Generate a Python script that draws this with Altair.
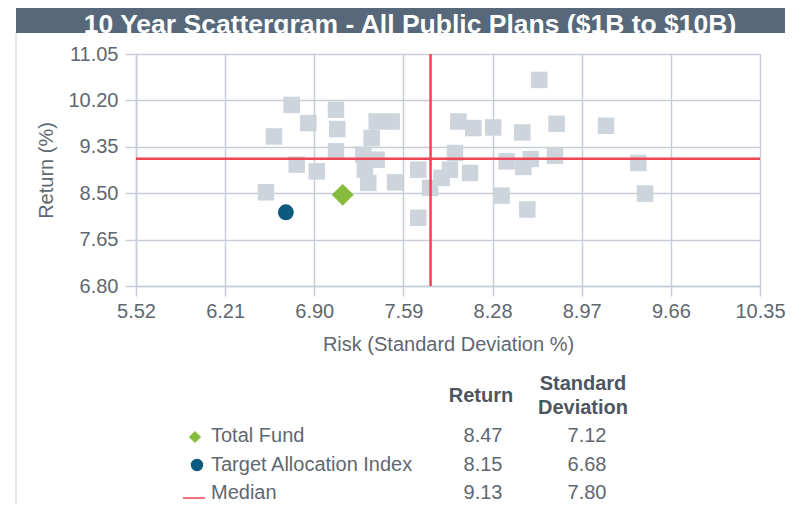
import altair as alt
import pandas as pd

# ---- data ----
peer_risk = [6.725, 6.854, 6.588, 7.068, 7.078, 7.068, 6.764, 6.919, 6.526,
             7.383, 7.499, 7.344, 7.279, 7.383, 7.292, 7.318, 7.525, 7.705,
             7.796, 7.705, 7.886, 7.950, 7.989, 8.105, 8.015, 8.131, 8.285,
             8.510, 8.776, 9.158, 8.641, 8.389, 8.518, 8.575, 8.763, 9.408,
             8.350, 9.460, 8.549]
peer_return = [10.118, 9.784, 9.540, 10.027, 9.675, 9.266, 9.023, 8.900, 8.517,
               9.813, 9.813, 9.510, 9.205, 9.114, 8.931, 8.688, 8.699, 8.931,
               8.597, 8.049, 8.780, 8.931, 9.236, 8.871, 9.813, 9.693, 9.704,
               9.613, 9.771, 9.735, 10.575, 9.083, 8.981, 9.127, 9.187, 9.054,
               8.456, 8.493, 8.201]

legend_labels = ["Total Fund", "Target Allocation Index", "Median"]
legend_return = [8.47, 8.15, 9.13]
legend_sd = [7.12, 6.68, 7.80]

x_ticks = [5.52, 6.21, 6.90, 7.59, 8.28, 8.97, 9.66, 10.35]
y_ticks = [6.80, 7.65, 8.50, 9.35, 10.20, 11.05]

title_text = "10 Year Scattergram - All Public Plans ($1B to $10B)"

GRID = "#c6cdd6"
LABEL = "#5f6770"
HEAD = "#4c5661"
RED = "#ef4454"
GREEN = "#86bc3c"
BLUE = "#0e5a7e"
SQUARE = "#cdd4dc"

peers = pd.DataFrame({"risk": peer_risk, "ret": peer_return})
fund = pd.DataFrame({"risk": [legend_sd[0]], "ret": [legend_return[0]]})
target = pd.DataFrame({"risk": [legend_sd[1]], "ret": [legend_return[1]]})
median = pd.DataFrame({"risk": [legend_sd[2]], "ret": [legend_return[2]]})
legend = pd.DataFrame({"label": legend_labels, "ret": legend_return,
                       "sd": legend_sd, "row": [0, 1, 2]})
one = pd.DataFrame({"t": [title_text]})

xscale = alt.Scale(domain=[5.52, 10.35], nice=False, zero=False)
yscale = alt.Scale(domain=[6.80, 11.05], nice=False, zero=False)

xaxis = alt.Axis(values=x_ticks, format=".2f", title="Risk (Standard Deviation %)",
                 labelFontSize=20, labelColor=LABEL, labelPadding=5,
                 labelFlush=False, labelOverlap=False,
                 tickSize=10, tickColor=GRID, tickWidth=1.5,
                 domainColor=GRID, domainWidth=1.5,
                 gridColor=GRID, gridWidth=1.5,
                 titleFontSize=20, titleFontWeight="normal", titleColor=LABEL,
                 titleY=64, titleBaseline="alphabetic", titleX=312)
yaxis = alt.Axis(values=y_ticks, format=".2f", title="Return (%)",
                 labelFontSize=20, labelColor=LABEL, labelPadding=7,
                 labelFlush=False, labelOverlap=False,
                 tickSize=11, tickColor=GRID, tickWidth=1.5,
                 domainColor=GRID, domainWidth=1.5,
                 gridColor=GRID, gridWidth=1.5,
                 titleFontSize=20, titleFontWeight="normal", titleColor=LABEL,
                 titleX=-84, titleY=116, titleAngle=270, titleAlign="center",
                 titleBaseline="alphabetic")

base_pts = alt.Chart(peers).mark_point(shape="square", filled=True, size=272,
                                       color=SQUARE, opacity=1).encode(
    x=alt.X("risk:Q", scale=xscale, axis=xaxis),
    y=alt.Y("ret:Q", scale=yscale, axis=yaxis),
)

vrule = alt.Chart(median).mark_rule(color=RED, strokeWidth=2.5).encode(
    x=alt.X("risk:Q", scale=xscale))
hrule = alt.Chart(median).mark_rule(color=RED, strokeWidth=2.5).encode(
    y=alt.Y("ret:Q", scale=yscale))

fund_pt = alt.Chart(fund).mark_point(shape="diamond", filled=True, size=480,
                                     color=GREEN, opacity=1).encode(
    x=alt.X("risk:Q", scale=xscale), y=alt.Y("ret:Q", scale=yscale))
target_pt = alt.Chart(target).mark_point(shape="circle", filled=True, size=254,
                                         color=BLUE, opacity=1).encode(
    x=alt.X("risk:Q", scale=xscale), y=alt.Y("ret:Q", scale=yscale))

# title bar
bar = alt.Chart(one).mark_rect(color="#566879").encode(
    x=alt.value(-120), x2=alt.value(660), y=alt.value(-46), y2=alt.value(-21))
title = alt.Chart(one).mark_text(color="white", fontSize=26.5, fontWeight="bold",
                                 font="Liberation Sans", align="center",
                                 baseline="alphabetic").encode(
    x=alt.value(274), y=alt.value(-21), text="t:N")
border = alt.Chart(one).mark_rule(color="#dde2e8", strokeWidth=1.5).encode(
    x=alt.value(-120), y=alt.value(-21), y2=alt.value(460))

# legend table
row_y = "382 + datum.row * 28.5"
leg_label = alt.Chart(legend).transform_calculate(yp=row_y).mark_text(
    align="left", baseline="middle", fontSize=20, color=LABEL).encode(
    x=alt.value(75), y=alt.Y("yp:Q", scale=None), text="label:N")
leg_ret = alt.Chart(legend).transform_calculate(yp=row_y).mark_text(
    align="center", baseline="middle", fontSize=20, color=LABEL).encode(
    x=alt.value(347), y=alt.Y("yp:Q", scale=None), text=alt.Text("ret:Q", format=".2f"))
leg_sd = alt.Chart(legend).transform_calculate(yp=row_y).mark_text(
    align="center", baseline="middle", fontSize=20, color=LABEL).encode(
    x=alt.value(451), y=alt.Y("yp:Q", scale=None), text=alt.Text("sd:Q", format=".2f"))

head_ret = alt.Chart(one).mark_text(align="center", baseline="middle", fontSize=20,
                                    fontWeight="bold", color=HEAD).encode(
    x=alt.value(345), y=alt.value(342), text=alt.value("Return"))
head_sd = alt.Chart(one).mark_text(align="center", baseline="middle", fontSize=20,
                                   fontWeight="bold", color=HEAD, lineBreak="\n",
                                   lineHeight=24).encode(
    x=alt.value(447), y=alt.value(330), text=alt.value("Standard\nDeviation"))

sym_fund = alt.Chart(one).mark_point(shape="diamond", filled=True, size=150,
                                     color=GREEN, opacity=1).encode(
    x=alt.value(59), y=alt.value(383))
sym_target = alt.Chart(one).mark_point(shape="circle", filled=True, size=154,
                                       color=BLUE, opacity=1).encode(
    x=alt.value(61), y=alt.value(411))
sym_median = alt.Chart(one).mark_rule(color=RED, strokeWidth=1.5).encode(
    x=alt.value(47), x2=alt.value(69), y=alt.value(444))

chart = alt.layer(
    base_pts, vrule, hrule, fund_pt, target_pt,
    bar, title, border,
    leg_label, leg_ret, leg_sd, head_ret, head_sd,
    sym_fund, sym_target, sym_median,
).properties(
    width=624, height=232,
    autosize=alt.AutoSizeParams(type="none"),
    padding={"left": 128, "top": 46, "right": 25, "bottom": 218},
).configure_view(stroke=None).configure(font="Liberation Sans")

chart.save("out.html", embed_options={"renderer": "svg", "actions": False})
